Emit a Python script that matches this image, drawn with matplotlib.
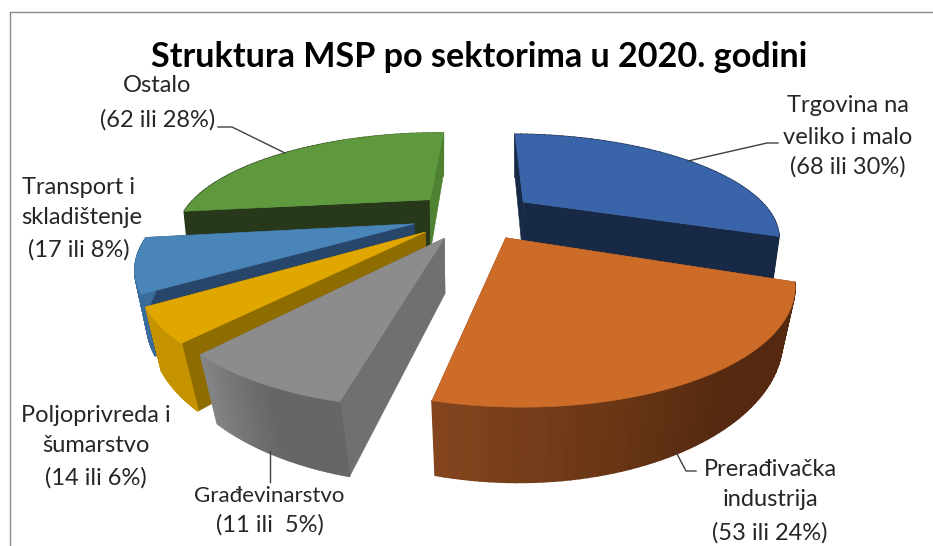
import numpy as np
import matplotlib
matplotlib.use("Agg")
import matplotlib.pyplot as plt

plt.rcParams['font.family'] = ['Lato', 'DejaVu Sans']

title = "Struktura MSP po sektorima u 2020. godini"

# clockwise from 12 o'clock, in the order drawn round the pie
slice_sizes = [69, 52, 17, 10, 17, 62]

top_colors = ['#3a64aa', '#cd6b28', '#8c8c8c', '#e0a700', '#4a85ba', '#5f993e']
# face at the start angle, face at the end angle
cut_colors = [('#172945', '#172945'), ('#84451e', '#84451e'), ('#707070', '#707070'),
              ('#8f6c00', '#8f6c00'), ('#28466a', '#28466a'), ('#27391a', '#4f8232')]
# outer wall, at the start angle and at the end angle
side_colors = [('#172945', '#172945'), ('#54290f', '#85461e'), ('#666666', '#858585'),
               ('#c59300', '#c59300'), ('#3a6d9c', '#3a6d9c'), ('#27391a', '#4f8232')]
draw_order = [5, 0, 4, 3, 2, 1]

labels = [
    (["Ostalo", "(62 ili 28%)"], [(157, 86), (158, 120)], 17),
    (["Trgovina na", "veliko i malo", "(68 ili 30%)"], [(848, 106), (848, 137), (848, 167)], 17),
    (["Transport i", "skladištenje", "(17 ili 8%)"], [(78, 187), (82, 217), (79, 250)], 17),
    (["Poljoprivreda i", "šumarstvo", "(14 ili 6%)"], [(96, 415), (96, 446), (96, 478)], 17),
    (["Građevinarstvo"], [(269, 496)], 16),
    (["(11 ili  5%)"], [(270, 525)], 17),
    (["Prerađivačka", "industrija", "(53 ili 24%)"], [(770, 470), (770, 500), (770, 533)], 17),
]

leaders = [
    ([218, 232, 285], [127, 127, 153]),
    ([778, 767, 688], [143, 143, 161]),
    ([696, 686, 676], [471, 471, 452]),
    ([270, 270], [451, 482]),
]

# view of the pie
cx, cy = 474, 215
rad_x, rad_y, persp = 249, 96.4, 0.318
explode = 0.25
start_angle = 1.0


def project(u, v):
    w = 1 / (1 + persp * v)
    return cx + rad_x * u * w, cy - rad_y * v * w


def drop(x, y):
    # bottom edge of the pie, shrinks toward the centre
    f = 0.0003 * (y - 150)
    return x + (cx - x) * f, y + 43 + (y - 134) * 0.118


def draw_wedge(ax, a0, a1, top, cuts, sides):
    mid = np.radians((a0 + a1) / 2)
    ou, ov = explode * np.sin(mid), explode * np.cos(mid)
    ang = np.radians(np.linspace(a0, a1, 60))
    ax_x, ax_y = project(ou, ov)
    xs, ys = project(ou + np.sin(ang), ov + np.cos(ang))
    bx, by = drop(xs, ys)
    abx, aby = drop(ax_x, ax_y)

    ax.fill([ax_x, xs[0], bx[0], abx], [ax_y, ys[0], by[0], aby], color=cuts[0], lw=0.4)
    ax.fill([ax_x, xs[-1], bx[-1], abx], [ax_y, ys[-1], by[-1], aby], color=cuts[1], lw=0.4)

    c0 = np.array(matplotlib.colors.to_rgb(sides[0]))
    c1 = np.array(matplotlib.colors.to_rgb(sides[1]))
    for i in range(len(xs) - 1):
        t = np.clip((i - 25) / 34, 0, 1)
        ax.fill([xs[i], xs[i + 1], bx[i + 1], bx[i]], [ys[i], ys[i + 1], by[i + 1], by[i]],
                color=c0 + (c1 - c0) * t, lw=1.2)

    ax.fill(np.r_[ax_x, xs], np.r_[ax_y, ys], color=top, lw=0.4)


fig = plt.figure(figsize=(9.33, 5.46), dpi=100)
ax = fig.add_axes([0, 0, 1, 1])
ax.set_xlim(0, 933)
ax.set_ylim(546, 0)
ax.axis('off')

# chart frame, only left and top are in the picture
ax.plot([10, 10, 933], [546, 12, 12], color='#8a8a8a', lw=1)

edges = start_angle + np.r_[0, np.cumsum(slice_sizes)] * 360 / np.sum(slice_sizes)
for i in draw_order:
    draw_wedge(ax, edges[i], edges[i + 1], top_colors[i], cut_colors[i], side_colors[i])

for lx, ly in leaders:
    ax.plot(lx, ly, color='#404040', lw=1)

ax.text(479, 57, title, fontsize=24.6, fontweight='bold', ha='center', va='center', color='black')
for lines, spots, size in labels:
    for line, (x, y) in zip(lines, spots):
        ax.text(x, y, line, fontsize=size, ha='center', va='center', color='#262626')

fig.savefig("out.png", dpi=100)
